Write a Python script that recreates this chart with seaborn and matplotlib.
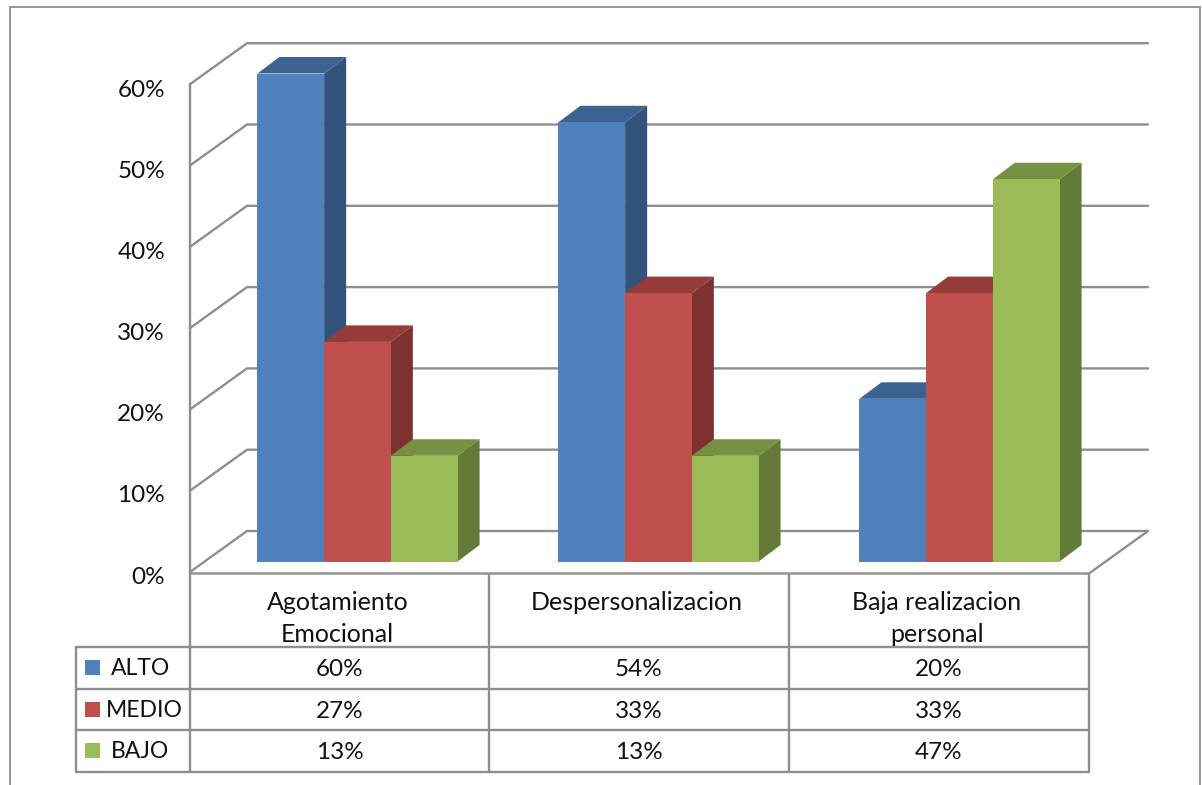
import matplotlib
matplotlib.use("Agg")
import matplotlib.pyplot as plt
from matplotlib.patches import Polygon, Rectangle
import pandas as pd
import seaborn as sns

categorias = ["Agotamiento\nEmocional", "Despersonalizacion", "Baja realizacion\npersonal"]
niveles = ["ALTO", "MEDIO", "BAJO"]
alto = [60, 54, 20]
medio = [27, 33, 33]
bajo = [13, 13, 47]
y_ticks = [0, 10, 20, 30, 40, 50, 60]

front_cols = ["#4F81BD", "#C0504D", "#9BBB59"]
side_cols = ["#31537C", "#7E3230", "#647A39"]
top_cols = ["#3C6291", "#953B38", "#779143"]
line_col = "#8E8E8E"

sns.set_theme(style="white")
plt.rcParams["font.family"] = ["Lato", "DejaVu Sans"]

W, H = 1202, 785
fig = plt.figure(figsize=(W / 100, H / 100), dpi=100, facecolor="white")

# pixel axes for the frame, walls and table
bg = fig.add_axes([0, 0, 1, 1], zorder=0)
bg.set_xlim(0, W)
bg.set_ylim(H, 0)
bg.axis("off")

def seg(xs, ys, lw=1.7):
    bg.plot(xs, ys, color=line_col, lw=lw, solid_capstyle="round")

# outer frame
seg([9.5, 9.5], [H, 6.5], 1.3)
seg([9.5, 1199.5], [6.5, 6.5], 1.3)
seg([1199.5, 1199.5], [6.5, H], 1.3)

# gridlines on the walls
px_per_pct = 8.13
for t in y_ticks:
    yf = 572 - t * px_per_pct
    yb = 531 - t * px_per_pct
    seg([190, 247, 1148], [yf, yb, yb])
    bg.text(165, 577 - t * 8.11, f"{t}%", ha="right", va="center", fontsize=17.5, color="#111111")

# floor and left edge
seg([190, 1089, 1148], [573.5, 573.5, 531])
seg([190, 190], [572 - 60 * px_per_pct, 772])

# table
row_y = [647, 689, 730, 772]
col_x = [190, 489, 789, 1089]
for x in col_x[1:]:
    seg([x, x], [573.5, 772])
seg([76, 76], [row_y[0], row_y[-1]])
for y in row_y:
    seg([76, 1089], [y, y])

valores = [alto, medio, bajo]
for j, cat in enumerate(categorias):
    lines = cat.split("\n")
    cx = (col_x[j] + col_x[j + 1]) / 2 - 2
    for k, txt in enumerate(lines):
        bg.text(cx, 602 + k * 32, txt, ha="center", va="center", fontsize=18, color="#111111")
    for i in range(3):
        bg.text(cx + 2, row_y[i] + 22.5, f"{valores[i][j]}%", ha="center", va="center",
                fontsize=17.5, color="#111111")

label_x = [140.5, 144.5, 140]
for i, nivel in enumerate(niveles):
    bg.add_patch(Rectangle((85, row_y[i] + 13), 15, 15, color=front_cols[i], lw=0))
    bg.text(label_x[i], row_y[i] + 21.5, nivel, ha="center", va="center", fontsize=16.5, color="#111111")

# bars
df = pd.DataFrame({
    "categoria": [c for c in categorias for _ in niveles],
    "nivel": niveles * 3,
    "valor": [valores[i][j] for j in range(3) for i in range(3)],
})

ax = fig.add_axes([207 / W, (H - 561.5) / H, 903 / W, 488 / H], zorder=1)
ax.patch.set_alpha(0)
sns.barplot(data=df, x="categoria", y="valor", hue="nivel", order=categorias, hue_order=niveles,
            palette=front_cols, saturation=1, width=0.665, gap=0, legend=False, ax=ax)
ax.set_xlim(-0.5, 2.5)
ax.set_ylim(0, 60)
ax.axis("off")

# fake 3D depth for each bar
dx = 22 * 3 / 903
dy = 16.5 * 60 / 488
for n, cont in enumerate(ax.containers):
    for b in cont:
        x0, x1 = b.get_x(), b.get_x() + b.get_width()
        h = b.get_height()
        z = 2 + 2 * n
        b.set_zorder(z + 1)
        b.set_linewidth(0)
        b.set_clip_on(False)
        ax.add_patch(Polygon([(x1, 0), (x1 + dx, dy), (x1 + dx, h + dy), (x1, h)],
                             color=side_cols[n], lw=0, zorder=z, clip_on=False))
        ax.add_patch(Polygon([(x0, h), (x0 + dx, h + dy), (x1 + dx, h + dy), (x1, h)],
                             color=top_cols[n], lw=0, zorder=z, clip_on=False))

fig.savefig("out.png", dpi=100, facecolor="white")
